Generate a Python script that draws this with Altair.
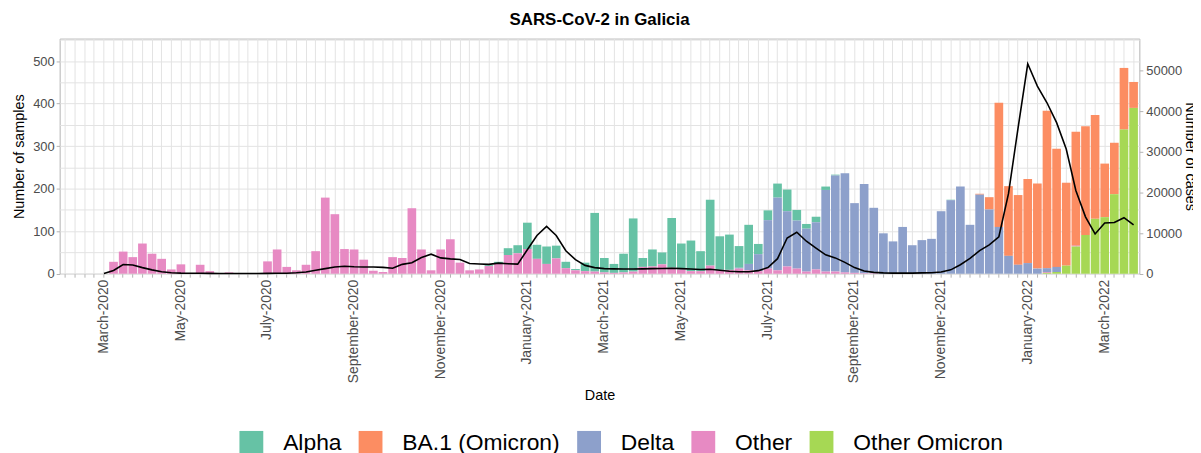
import altair as alt
import pandas as pd

# ---------------- data ----------------
weeks = [d.strftime("%Y-%m-%d") for d in pd.date_range("2020-02-03", periods=112, freq="7D")]

tick_index = [4, 12, 21, 30, 39, 48, 56, 64, 73, 82, 91, 100, 108]
tick_labels = ["March-2020", "May-2020", "July-2020", "September-2020", "November-2020",
               "January-2021", "March-2021", "May-2021", "July-2021", "September-2021",
               "November-2021", "January-2022", "March-2022"]

variants = ["Alpha", "BA.1 (Omicron)", "Delta", "Other", "Other Omicron"]
colors = ["#66C2A5", "#FC8D62", "#8DA0CB", "#E78AC3", "#A6D854"]
stack_rank = [4, 3, 2, 1, 0]  # Alpha on top ... Other Omicron at bottom

other = [0, 0, 0, 0, 0, 28, 52, 39, 71, 47, 35, 10, 22, 0, 21, 6, 0, 3, 1, 0,
         0, 29, 57, 16, 8, 21, 53, 179, 140, 58, 57, 33, 7, 4, 39, 37, 154, 57, 8, 57,
         81, 26, 8, 10, 18, 24, 44, 48, 58, 35, 23, 36, 13, 8, 6, 5, 3, 2, 3, 5,
         16, 17, 22, 14, 10, 6, 6, 19, 9, 9, 12, 8, 6, 12, 8, 17, 12, 5, 10, 5,
         5, 3, 2, 1, 1, 0, 0, 0, 0, 0, 0, 0, 0, 0, 0, 0, 0, 0, 0, 0,
         0, 0, 2, 0, 0, 2, 0, 0, 0, 0, 0, 0]

alpha = [0] * 44 + [2, 4, 16, 19, 62, 33, 41, 30, 15, 3, 20, 138, 34, 21, 44, 125,
                    21, 40, 28, 117, 61, 72, 47, 155, 79, 83, 51, 92, 24, 23, 33, 51,
                    25, 11, 13, 8, 2] + [0] * 11 + [1] + [0] * 19

delta = [0] * 70 + [2, 15, 40, 114, 171, 130, 113, 101, 111, 192, 226, 233, 164, 210,
                    154, 95, 76, 110, 67, 79, 82, 147, 173, 205, 115, 186, 151, 110,
                    42, 21, 25, 12, 9, 12] + [0] * 8

ba1 = [0] * 95 + [2, 29, 292, 164, 164, 198, 200, 370, 278, 195, 268, 256, 244,
                  126, 121, 145, 61]

other_omicron = [0] * 102 + [2, 4, 19, 64, 91, 129, 133, 187, 339, 390]

cases = [None] * 4 + [
    50, 800, 2250, 2150, 1500, 950, 500, 250, 150, 120,
    100, 80, 70, 60, 60, 60, 70, 80, 100, 130,
    230, 430, 850, 1250, 1650, 1850, 1700, 1650, 1650, 1550,
    1350, 2300, 2700, 4000, 4800, 3900, 3650, 3500, 2500, 2400,
    2300, 2600, 2450, 2350, 5900, 9400, 11650, 9400, 5650, 3450,
    2050, 1500, 1250, 1200, 1150, 1150, 1200, 1250, 1300, 1350,
    1250, 1150, 1050, 1100, 850, 600, 500, 500, 750, 1500,
    3700, 8800, 10200, 8000, 6300, 4650, 3900, 2800, 1500, 650,
    330, 200, 150, 150, 150, 200, 250, 400, 950, 2200,
    3750, 5700, 7100, 9100, 19700, 36000, 51700, 46200, 42100, 37200,
    30700, 20500, 14000, 9800, 12500, 12600, 13800, 12000]

left_grid = [0, 50, 100, 150, 200, 250, 300, 350, 400, 450, 500, 550]
right_ticks = [0, 10000, 20000, 30000, 40000, 50000]
LEFT_MAX = 553
RIGHT_MAX = 57900

# ---------------- tables ----------------
rows = []
for v, rank, series in zip(variants, stack_rank, [alpha, ba1, delta, other, other_omicron]):
    for w, n in zip(weeks, series):
        if n > 0:
            rows.append({"week": w, "variant": v, "samples": n, "rank": rank})
bars_df = pd.DataFrame(rows)
cases_df = pd.DataFrame({"week": weeks, "cases": cases}).dropna()

label_expr = ""
for i, lab in zip(tick_index, tick_labels):
    label_expr += f"datum.value == '{weeks[i]}' ? '{lab}' : "
label_expr += "''"

FONT = "Liberation Sans"
GRID = "#E3E3E3"
TICK = "#B3B3B3"
LAB = "#4D4D4D"

x_scale = alt.Scale(type="band", domain=weeks, paddingInner=0.1, paddingOuter=0.15)

x_enc = alt.X(
    "week:O", scale=x_scale,
    axis=alt.Axis(
        title="Date", labelExpr=label_expr, labelAngle=-90, labelOverlap=False,
        grid=True, gridColor=GRID, gridWidth=1, tickColor=TICK, tickSize=3.5,
        domain=False, labelFontSize=14, labelColor=LAB, labelPadding=2,
        labelFont=FONT, titleFont=FONT, titleFontSize=14.5, titleColor="black",
        titleFontWeight="normal", titlePadding=6,
    ),
)

bars = alt.Chart(bars_df).mark_bar(opacity=1).encode(
    x=x_enc,
    y=alt.Y(
        "samples:Q", stack="zero",
        scale=alt.Scale(domain=[0, LEFT_MAX], nice=False, zero=True),
        axis=alt.Axis(
            title="Number of samples", values=left_grid, orient="left",
            labelExpr="datum.value % 100 == 0 && datum.value <= 500 ? datum.label : ''",
            grid=True, gridColor=GRID, gridWidth=1,
            tickColor=TICK, tickSize=3.5,
            tickOpacity={"condition": {"test": "datum.value % 100 != 0", "value": 0}, "value": 1},
            domain=False, labelFontSize=13, labelColor=LAB, labelFont=FONT,
            titleFont=FONT, titleFontSize=14.5, titleColor="black",
            titleFontWeight="normal", titlePadding=6,
        ),
    ),
    color=alt.Color(
        "variant:N",
        scale=alt.Scale(domain=variants, range=colors),
        legend=alt.Legend(
            title=None, orient="none", direction="horizontal",
            legendX=181, legendY=395,
            symbolType="square", symbolSize=576, symbolStrokeWidth=0,
            symbolOpacity=1, labelFontSize=23, labelFont=FONT, labelColor="black",
            labelOffset=20, columnPadding=17,
        ),
    ),
    order=alt.Order("rank:Q", sort="ascending"),
)

line = alt.Chart(cases_df).mark_line(color="black", strokeWidth=1.6).encode(
    x=alt.X("week:O", scale=x_scale),
    y=alt.Y(
        "cases:Q",
        scale=alt.Scale(domain=[0, RIGHT_MAX], nice=False, zero=True),
        axis=alt.Axis(
            title="Number of cases", orient="right", values=right_ticks, format="d",
            grid=False, tickColor=TICK, tickSize=3.5, domain=False,
            labelFontSize=13, labelColor=LAB, labelFont=FONT, labelPadding=3,
            titleFont=FONT, titleFontSize=14.5, titleColor="black",
            titleFontWeight="normal", titlePadding=1,
        ),
    ),
)

chart = (
    alt.layer(bars, line)
    .resolve_scale(y="independent")
    .properties(
        width=1087, height=236.7,
        title=alt.Title("SARS-CoV-2 in Galicia", fontSize=17, fontWeight="bold",
                        font=FONT, color="black", anchor="middle", frame="group",
                        offset=10),
        padding={"left": 52, "top": 29.3, "right": 54, "bottom": 179},
        autosize=alt.AutoSizeParams(type="none"),
    )
    .configure_view(stroke="#B3B3B3", strokeWidth=1)
)

chart.save("out.html", embed_options={"renderer": "svg", "actions": False})
